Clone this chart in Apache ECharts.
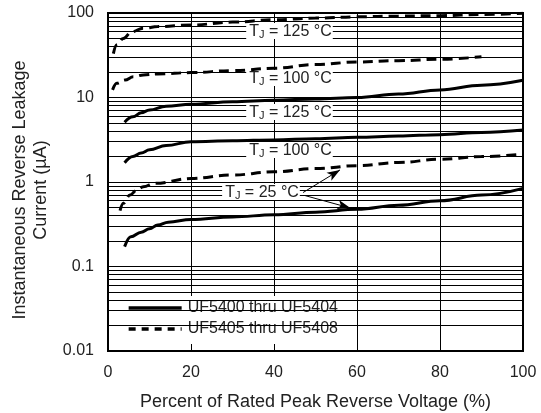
<!DOCTYPE html>
<html><head><meta charset="utf-8">
<script src="https://cdn.jsdelivr.net/npm/echarts@6/dist/echarts.min.js"></script>
<style>html,body{margin:0;padding:0;background:#fff}#c{width:541px;height:413px}</style>
</head><body><div id="c"></div>
<script>
// ---- data ----
const xTicks = [0, 20, 40, 60, 80, 100];
const yTicks = [0.01, 0.1, 1, 10, 100];

const solid125X = [4, 6, 8, 10, 14, 20, 30, 40, 50, 60, 70, 80, 90, 100];
const solid125Y = [5.1, 5.9, 6.6, 7.1, 7.9, 8.3, 8.9, 9.3, 9.6, 10.0, 11.0, 12.3, 14.0, 16.0];

const solid100X = [4, 6, 8, 10, 14, 20, 30, 40, 50, 60, 70, 80, 90, 100];
const solid100Y = [1.69, 2.0, 2.2, 2.4, 2.7, 3.0, 3.08, 3.15, 3.25, 3.38, 3.5, 3.63, 3.85, 4.12];

const solid25X = [4, 5.5, 8, 10, 12, 14.5, 20, 30, 40, 50, 60, 70, 80, 90, 100];
const solid25Y = [0.172, 0.225, 0.255, 0.28, 0.31, 0.335, 0.36, 0.385, 0.41, 0.44, 0.475, 0.53, 0.60, 0.70, 0.84];

const dash125X = [1.3, 2.1, 3.7, 5.7, 8.5, 12, 20, 30, 40, 50, 60, 70, 80, 90, 100];
const dash125Y = [33, 42, 50, 60, 66, 69, 72, 78, 83, 87, 90, 92, 93, 96, 99];

const dash100X = [1.1, 2.1, 4.1, 6.1, 8.5, 12, 20, 30, 40, 50, 60, 70, 80, 90];
const dash100Y = [12.3, 14.7, 16.1, 17.6, 18.5, 19.0, 19.7, 20.8, 22.2, 24.5, 26.3, 27.3, 28.3, 30.4];

const dash25X = [2.9, 3.7, 5.3, 6.9, 8.5, 11.3, 20, 30, 40, 50, 60, 70, 80, 90, 100];
const dash25Y = [0.457, 0.56, 0.70, 0.80, 0.88, 0.965, 1.1, 1.21, 1.32, 1.44, 1.56, 1.70, 1.86, 2.0, 2.13];

const legendNames = ['UF5400 thru UF5404', 'UF5405 thru UF5408'];
const tempTexts = ['125 °C', '100 °C', '125 °C', '100 °C', '25 °C'];
// anchor (left-middle) of each temperature label, in data coordinates
const tempAnchors = [[33.3, 61.2], [33.3, 17.0], [33.3, 6.73], [33.3, 2.39], [27.5, 0.762]];
const arrowUp = [[47, 0.75], [55.9, 1.39]];
const arrowDown = [[47.5, 0.69], [58.4, 0.492]];

// ---- build ----
const FONT = 'Liberation Sans, Arial, Helvetica, sans-serif';
function zip(xs, ys) { return xs.map((x, i) => [x, ys[i]]); }

const minorVals = [];
for (let d = yTicks[0]; d < yTicks[yTicks.length - 1] * 0.99; d *= 10) {
  for (let m = 2; m <= 9; m++) minorVals.push(+(d * m).toPrecision(3));
}

function curve(name, xs, ys, dashed) {
  return {
    type: 'line', name: name, data: zip(xs, ys), symbol: 'none', z: 10,
    smooth: 0.4, smoothMonotone: 'x',
    lineStyle: {color: '#000', width: 3, type: dashed ? [10, 6] : 'solid'},
    itemStyle: {color: '#000'}, silent: true
  };
}

const rich = {
  t: {fontSize: 16, fontFamily: FONT, color: '#222', lineHeight: 15},
  s: {fontSize: 11, fontFamily: FONT, color: '#222', lineHeight: 11, padding: [7, 0, 0, 0]}
};

const series = [
  {
    type: 'line', name: 'grid', data: [], z: 1, silent: true,
    markLine: {
      silent: true, symbol: 'none', label: {show: false},
      lineStyle: {color: '#000', width: 1, type: 'solid'},
      animation: false,
      data: minorVals.map(v => ({yAxis: v}))
    }
  },
  {
    type: 'line', name: 'labels', data: [], z: 5, silent: true,
    markPoint: {
      silent: true, symbol: 'circle', symbolSize: 0, animation: false,
      itemStyle: {color: 'transparent'},
      label: {
        show: true, position: 'right', distance: 0,
        formatter: p => '{t|T}{s|J}{t| = ' + p.name + '}',
        rich: rich, backgroundColor: '#fff', padding: [1, 1, 0, 3]
      },
      data: tempAnchors.map((c, i) => ({name: tempTexts[i], coord: c}))
    }
  },
  curve(legendNames[0], solid125X, solid125Y, false),
  curve(legendNames[0], solid100X, solid100Y, false),
  Object.assign(curve(legendNames[0], solid25X, solid25Y, false), {
    markLine: {
      silent: true, symbol: ['none', 'arrow'], symbolSize: [7, 13],
      label: {show: false}, animation: false,
      lineStyle: {color: '#000', width: 1, type: 'solid'},
      itemStyle: {color: '#000'},
      data: [
        [{coord: arrowUp[0]}, {coord: arrowUp[1]}],
        [{coord: arrowDown[0]}, {coord: arrowDown[1]}]
      ]
    }
  }),
  curve(legendNames[1], dash125X, dash125Y, true),
  curve(legendNames[1], dash100X, dash100Y, true),
  curve(legendNames[1], dash25X, dash25Y, true)
];

const chart = echarts.init(document.getElementById('c'));
chart.setOption({
  animation: false,
  backgroundColor: '#fff',
  grid: {left: 108, right: 18, top: 13, bottom: 62, show: true, borderColor: '#000', borderWidth: 2,
    backgroundColor: 'transparent', containLabel: false, outerBoundsMode: 'none'},
  xAxis: {
    type: 'value', min: xTicks[0], max: xTicks[xTicks.length - 1], interval: 20,
    axisLine: {show: false}, axisTick: {show: false},
    axisLabel: {fontSize: 16, fontFamily: FONT, color: '#222', margin: 14},
    splitLine: {show: true, lineStyle: {color: '#000', width: 1}},
    name: 'Percent of Rated Peak Reverse Voltage (%)', nameLocation: 'middle', nameGap: 42,
    nameTextStyle: {fontSize: 18, fontFamily: FONT, color: '#222'}
  },
  yAxis: {
    type: 'log', logBase: 10, min: yTicks[0], max: yTicks[yTicks.length - 1],
    axisLine: {show: false}, axisTick: {show: false},
    axisLabel: {fontSize: 16, fontFamily: FONT, color: '#222', margin: 14,
      formatter: v => String(yTicks.find(t => Math.abs(t - v) / t < 1e-6) ?? v)},
    splitLine: {show: true, lineStyle: {color: '#000', width: 1}},
    name: 'Instantaneous Reverse Leakage\nCurrent (µA)', nameLocation: 'middle', nameGap: 52,
    nameTextStyle: {fontSize: 18, fontFamily: FONT, color: '#222', lineHeight: 21, padding: [0, 16, 0, 0]}
  },
  legend: {
    data: [
      {name: legendNames[0], lineStyle: {type: 'solid', width: 3.3, color: '#000'}, itemStyle: {opacity: 0}},
      {name: legendNames[1], lineStyle: {type: [7, 6], width: 3.3, color: '#000'}, itemStyle: {opacity: 0}}
    ],
    orient: 'vertical', left: 122, top: 296, itemWidth: 53, itemHeight: 14, itemGap: 5,
    backgroundColor: '#fff', padding: [4, 5, 7, 5], selectedMode: false,
    textStyle: {fontSize: 16, fontFamily: FONT, color: '#222', padding: [0, 0, 0, 1]}
  },
  series: series
});
</script></body></html>
